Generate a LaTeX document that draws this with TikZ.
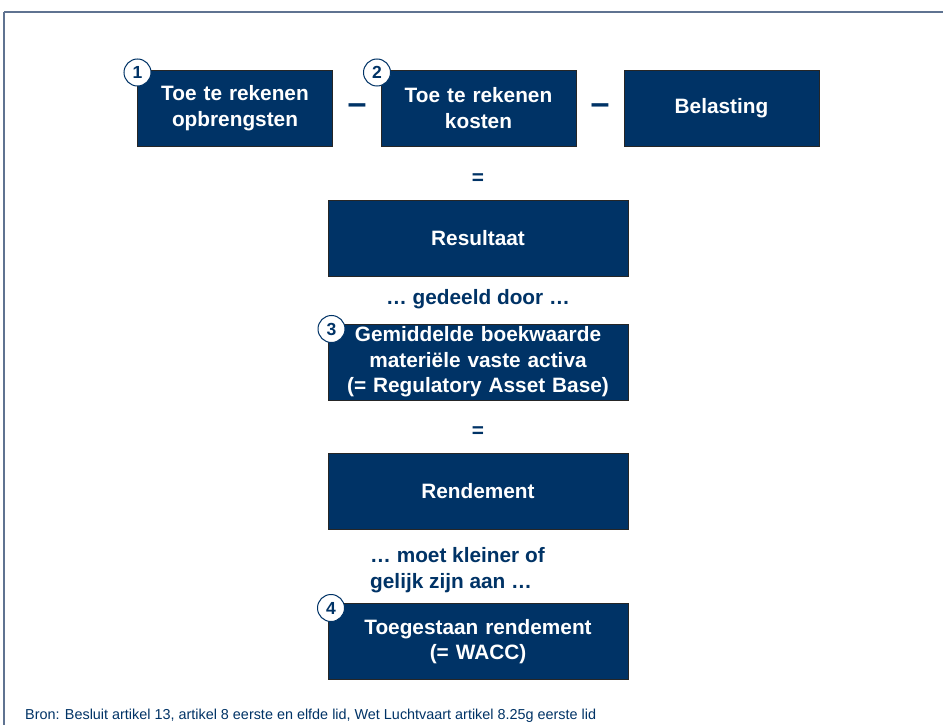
\documentclass[tikz,border=0pt]{standalone}
\usepackage{fontspec}
\setmainfont{Liberation Sans}
\usepackage{tikz}
\definecolor{navy}{RGB}{0,51,102}
\definecolor{framegray}{RGB}{95,115,145}
\tikzset{
  box/.style={draw=black!85,line width=0.8pt,fill=navy,text=white,minimum height=76pt,inner sep=0pt,align=center,font=\fontsize{20.8}{25.5}\selectfont\bfseries},
  smallbox/.style={box,minimum width=195pt,text width=190pt},
  widebox/.style={box,minimum width=300pt,text width=295pt},
  numcircle/.style={circle,draw=navy,fill=white,line width=1pt,minimum size=27pt,inner sep=0pt,text=navy,font=\fontsize{17.5}{17.5}\selectfont\bfseries},
  sign/.style={text=navy,inner sep=0pt,font=\fontsize{20.8}{25.5}\selectfont\bfseries},
  dashsign/.style={sign,font=\fontsize{34}{34}\selectfont\bfseries},
  remark/.style={text=navy,inner sep=0pt,font=\fontsize{20.8}{25.5}\selectfont\bfseries}
}
\begin{document}
\begin{tikzpicture}[x=1pt,y=-1pt]
\useasboundingbox[fill=white] (0,0) rectangle (943,725);
\draw[framegray,line width=2pt] (4,12.5) -- (943,12.5);
\draw[framegray,line width=1.3pt] (4,12.5) -- (4,725);

\node[smallbox] (opbr) at (235,108) {Toe te rekenen\\opbrengsten};
\node[smallbox] (kost) at (478.5,108) {Toe te rekenen\\kosten};
\node[smallbox] (bel) at (721.5,108) {Belasting};
\node[dashsign] (min1) at (357,109) {–};
\node[dashsign] (min2) at (600,109) {–};

\node[sign] (is1) at (478,179) {=};
\node[widebox] (res) at (478,238) {Resultaat};
\node[remark] (deel) at (478,299) {… gedeeld door …};
\node[widebox] (rab) at (478,362) {Gemiddelde boekwaarde\\materiële vaste activa\\(= Regulatory Asset Base)};
\node[sign] (is2) at (478,432) {=};
\node[widebox] (rend) at (478,491.5) {Rendement};
\node[remark,anchor=west,align=left] (klein) at (370,570) {… moet kleiner of\\gelijk zijn aan …};
\node[widebox] (wacc) at (478,641.5) {Toegestaan rendement\\(= WACC)};

\node[numcircle] (n1) at (137.5,72.5) {1};
\node[numcircle] (n2) at (377,72.5) {2};
\node[numcircle] (n3) at (331.5,329) {3};
\node[numcircle] (n4) at (331,608) {4};

\node[anchor=base west,inner sep=0pt,text=navy,font=\fontsize{14.4}{17}\selectfont] (bron) at (25,719.5) {Bron: Besluit artikel 13, artikel 8 eerste en elfde lid, Wet Luchtvaart artikel 8.25g eerste lid};
\end{tikzpicture}
\end{document}
